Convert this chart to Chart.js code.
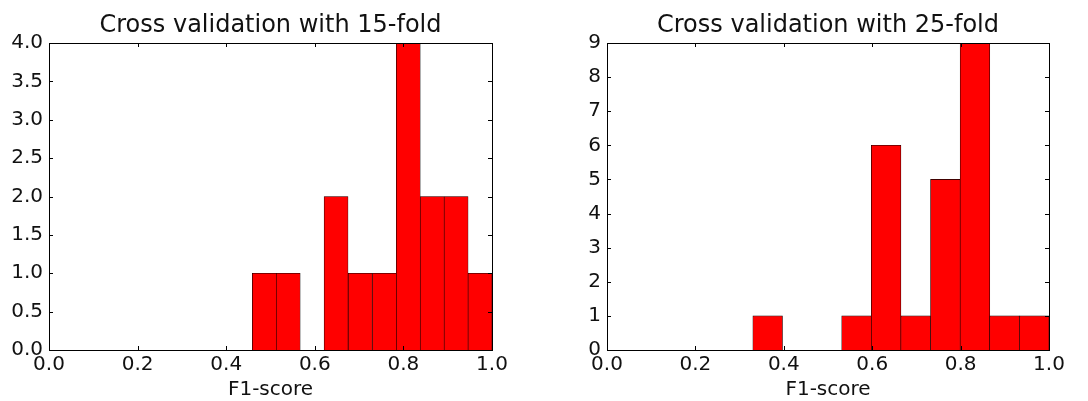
<!DOCTYPE html>
<html>
<head>
<meta charset="utf-8">
<script src="https://cdn.jsdelivr.net/npm/chart.js@4"></script>
<style>
  html, body { margin: 0; padding: 0; background: #fff; }
  .panel { position: absolute; top: 0; width: 544px; height: 401px; }
</style>
</head>
<body>
<div class="panel" style="left:0"><canvas id="cv15" width="544" height="401"></canvas></div>
<div class="panel" style="left:544px"><canvas id="cv25" width="544" height="401"></canvas></div>
<script>
// histogram bin edges and counts for each fold setting
const edges15 = [0.459, 0.513, 0.567, 0.621, 0.675, 0.730, 0.784, 0.838, 0.892, 0.946, 1.0];
const counts15 = [1, 1, 0, 2, 1, 1, 4, 2, 2, 1];
const edges25 = [0.330, 0.397, 0.464, 0.531, 0.598, 0.665, 0.732, 0.799, 0.866, 0.933, 1.0];
const counts25 = [1, 0, 0, 1, 6, 1, 5, 9, 1, 1];

const xTicks = [0, 0.2, 0.4, 0.6, 0.8, 1.0];
const yTicks15 = [0, 0.5, 1, 1.5, 2, 2.5, 3, 3.5, 4];
const yTicks25 = [0, 1, 2, 3, 4, 5, 6, 7, 8, 9];

const FONT = 'DejaVu Sans';

function toPoints(edges, counts) {
  return counts.map((c, i) => ({ x: (edges[i] + edges[i + 1]) / 2, y: c }));
}

// black frame around the plot area plus inward tick marks on all four sides,
// and the title centred over the plot area (not the whole canvas)
const frame = {
  id: 'frame',
  afterDraw(chart, args, opts) {
    const { ctx, chartArea: a, scales } = chart;
    ctx.save();
    ctx.strokeStyle = '#000';
    ctx.lineWidth = 1;
    ctx.beginPath();
    scales.x.ticks.forEach(t => {
      const px = Math.round(scales.x.getPixelForValue(t.value)) + 0.5;
      ctx.moveTo(px, a.bottom); ctx.lineTo(px, a.bottom - 4);
      ctx.moveTo(px, a.top); ctx.lineTo(px, a.top + 4);
    });
    scales.y.ticks.forEach(t => {
      const py = Math.round(scales.y.getPixelForValue(t.value)) + 0.5;
      ctx.moveTo(a.left, py); ctx.lineTo(a.left + 4, py);
      ctx.moveTo(a.right, py); ctx.lineTo(a.right - 4, py);
    });
    ctx.stroke();
    ctx.strokeRect(Math.round(a.left) + 0.5, Math.round(a.top) + 0.5,
      Math.round(a.right - a.left), Math.round(a.bottom - a.top));

    ctx.fillStyle = '#111';
    ctx.font = `24px "${FONT}"`;
    ctx.textAlign = 'center';
    ctx.textBaseline = 'middle';
    ctx.fillText(opts.text, (a.left + a.right) / 2, 26);
    ctx.restore();
  }
};

function makeHist(id, title, edges, counts, yTicks, yFmt, yWidth, rightPad) {
  return new Chart(document.getElementById(id), {
    type: 'bar',
    data: {
      datasets: [{
        data: toPoints(edges, counts),
        backgroundColor: '#ff0000',
        borderColor: '#000',
        borderWidth: 0.6,
        barPercentage: 1,
        categoryPercentage: 1
      }]
    },
    options: {
      responsive: false,
      animation: false,
      devicePixelRatio: 1,
      layout: { padding: { left: 0, right: rightPad, top: 43, bottom: 0 } },
      plugins: {
        legend: { display: false },
        tooltip: { enabled: false },
        title: { display: false },
        frame: { text: title }
      },
      scales: {
        x: {
          type: 'linear',
          min: 0, max: 1,
          offset: false,
          grid: { display: false, drawTicks: false },
          border: { display: false },
          afterBuildTicks: s => { s.ticks = xTicks.map(v => ({ value: v })); },
          afterFit: s => { s.height = 51; },
          ticks: {
            color: '#111',
            padding: 3,
            maxRotation: 0,
            font: { family: FONT, size: 20 },
            callback: v => v.toFixed(1)
          },
          title: {
            display: true,
            text: 'F1-score',
            color: '#111',
            font: { family: FONT, size: 20 },
            padding: { top: 0, bottom: -1 }
          }
        },
        y: {
          min: 0, max: yTicks[yTicks.length - 1],
          grid: { display: false, drawTicks: false },
          border: { display: false },
          afterBuildTicks: s => { s.ticks = yTicks.map(v => ({ value: v })); },
          afterFit: s => { s.width = yWidth; },
          ticks: {
            color: '#111',
            padding: 6,
            font: { family: FONT, size: 20 },
            callback: yFmt
          }
        }
      }
    },
    plugins: [frame]
  });
}

makeHist('cv15', 'Cross validation with 15-fold', edges15, counts15, yTicks15, v => v.toFixed(1), 49, 52);
makeHist('cv25', 'Cross validation with 25-fold', edges25, counts25, yTicks25, v => String(v), 63, 39);
</script>
</body>
</html>
